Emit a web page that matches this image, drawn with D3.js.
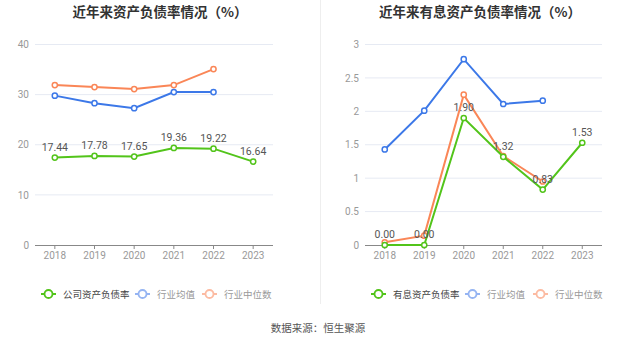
<!DOCTYPE html>
<html><head><meta charset="utf-8">
<script src="https://cdn.jsdelivr.net/npm/d3@7"></script>
<style>body{margin:0;background:#fff;}svg{display:block;font-family:"Noto Sans CJK SC","Noto Sans",sans-serif;}</style>
</head><body>
<svg id="c" width="637" height="344"></svg>
<script>
const years = ["2018","2019","2020","2021","2022","2023"];
// Left chart: 资产负债率
const leftCompany = [17.44, 17.78, 17.65, 19.36, 19.22, 16.64];
const leftAvg = [29.8, 28.3, 27.3, 30.5, 30.5, null];
const leftMedian = [31.9, 31.5, 31.1, 31.9, 35.1, null];
const leftTicks = [0, 10, 20, 30, 40];
// Right chart: 有息资产负债率
const rightCompany = [0.00, 0.00, 1.90, 1.32, 0.83, 1.53];
const rightAvg = [1.43, 2.01, 2.78, 2.11, 2.16, null];
const rightMedian = [0.04, 0.14, 2.25, 1.33, 0.95, null];
const rightTicks = [0, 0.5, 1, 1.5, 2, 2.5, 3];

const titles = ["近年来资产负债率情况（%）", "近年来有息资产负债率情况（%）"];
const legendLeft = ["公司资产负债率", "行业均值", "行业中位数"];
const legendRight = ["有息资产负债率", "行业均值", "行业中位数"];
const source = "数据来源：恒生聚源";

const C = {green:"#52c41a", blue:"#3c78e8", orange:"#fa8657"};
const CL = {green:"#52c41a", blue:"#95b4f2", orange:"#fcbba2"};

const svg = d3.select("#c");

function panel(opt){
  const g = svg.append("g");
  const x = d3.scaleBand().domain(years).range([opt.x0, opt.x1]);
  const y = d3.scaleLinear().domain([0, opt.max]).range([245, 44.5]);
  // title
  g.append("text").attr("x", opt.tx).attr("y", 17).attr("text-anchor","middle")
    .attr("font-size", 13.5).attr("font-weight","bold").attr("fill","#333").text(opt.title);
  // grid
  g.append("g").selectAll("line").data(opt.ticks.filter(d=>d>0)).join("line")
    .attr("x1", opt.x0).attr("x2", opt.x1).attr("y1", d=>y(d)).attr("y2", d=>y(d))
    .attr("stroke","#e6eaf3").attr("stroke-width",1);
  // y axis labels
  const ya = g.append("g").attr("transform",`translate(${opt.x0},0)`)
    .call(d3.axisLeft(y).tickValues(opt.ticks).tickSize(0).tickPadding(6).tickFormat(d=>String(d)));
  ya.select(".domain").remove();
  ya.selectAll("text").attr("fill","#999").attr("font-size",10).attr("font-family","Roboto, sans-serif");
  // x axis
  const xa = g.append("g").attr("transform","translate(0,245)")
    .call(d3.axisBottom(x).tickSize(4).tickPadding(3));
  xa.select(".domain").attr("stroke","#888").attr("d",`M${opt.x0},0.5H${opt.x1}`);
  xa.selectAll(".tick line").attr("stroke","#888");
  xa.selectAll("text").attr("fill","#999").attr("font-size",10).attr("font-family","Roboto, sans-serif");

  const cx = d => x(d) + x.bandwidth()/2;
  const series = [
    {vals: opt.median, color: C.orange},
    {vals: opt.avg, color: C.blue},
    {vals: opt.company, color: C.green}
  ];
  series.forEach(s=>{
    const pts = years.map((yr,i)=>({yr, v:s.vals[i]})).filter(p=>p.v!=null);
    const line = d3.line().x(p=>cx(p.yr)).y(p=>y(p.v));
    g.append("path").datum(pts).attr("d", line).attr("fill","none")
      .attr("stroke", s.color).attr("stroke-width",2);
    g.append("g").selectAll("circle").data(pts).join("circle")
      .attr("cx", p=>cx(p.yr)).attr("cy", p=>y(p.v)).attr("r",2.6)
      .attr("fill","#fff").attr("stroke", s.color).attr("stroke-width",1.5);
  });
  // value labels
  g.append("g").selectAll("text").data(years.map((yr,i)=>({yr,v:opt.company[i]}))).join("text")
    .attr("x", p=>cx(p.yr)).attr("y", p=>y(p.v)-7).attr("text-anchor","middle")
    .attr("font-size",10.5).attr("font-family","Roboto, sans-serif").attr("fill","#555")
    .text(p=>p.v.toFixed(2));
  // legend
  const lg = g.append("g");
  opt.legend.forEach((name,i)=>{
    const lx = opt.lx[i];
    const col = [CL.green, CL.blue, CL.orange][i];
    lg.append("line").attr("x1",lx).attr("x2",lx+15).attr("y1",294).attr("y2",294)
      .attr("stroke",col).attr("stroke-width",2);
    lg.append("circle").attr("cx",lx+7.5).attr("cy",294).attr("r",4)
      .attr("fill","#fff").attr("stroke",col).attr("stroke-width",1.8);
    lg.append("text").attr("x",lx+22).attr("y",297.5).attr("font-size",9.5)
      .attr("fill", i===0?"#444":"#999").text(name);
  });
}

panel({x0:35, x1:273, max:40, ticks:leftTicks, tx:160, title:titles[0],
  company:leftCompany, avg:leftAvg, median:leftMedian, legend:legendLeft, lx:[41,135,202]});
panel({x0:365, x1:602, max:3, ticks:rightTicks, tx:480, title:titles[1],
  company:rightCompany, avg:rightAvg, median:rightMedian, legend:legendRight, lx:[371,465,533]});

// divider
svg.append("line").attr("x1",320.5).attr("x2",320.5).attr("y1",0).attr("y2",304)
  .attr("stroke","#eeeeee").attr("stroke-width",1);
// source
svg.append("text").attr("x",318).attr("y",332).attr("text-anchor","middle")
  .attr("font-size",10.5).attr("fill","#555").text(source);
</script>
</body></html>
